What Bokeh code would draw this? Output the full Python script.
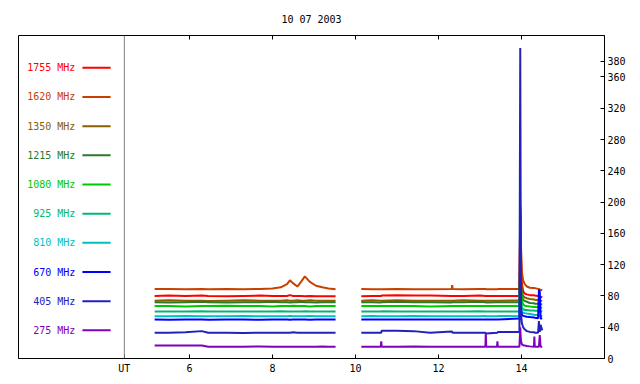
from bokeh.plotting import figure
from bokeh.models import Range1d, LinearAxis, FixedTicker, Span
from bokeh.core.properties import value
from bokeh.embed import file_html
from bokeh.resources import INLINE

NaN = float("nan")

TITLE = "10 07 2003"
FONT = "DejaVu Sans Mono"

# time in hours UT (NaN = data gap)
HOURS = [
    5.16, 5.5, 5.9, 6.3, 6.45, 6.9, 7.3, 7.7, 8.0, 8.2, 8.35, 8.42, 8.5, 8.6, 8.7, 8.78, 8.9, 9.05, 9.2, 9.35, 9.52,
    NaN,
    10.14, 10.4, 10.61, 10.62, 10.63, 11.0, 11.4, 11.8, 12.32, 12.33, 12.34, 12.6, 13.0, 13.13, 13.14, 13.15, 13.41, 13.42, 13.43, 13.95,
    13.97, 13.98, 13.99, 14.01, 14.04, 14.08, 14.13, 14.2, 14.3, 14.31, 14.32, 14.4, 14.42, 14.44, 14.46, 14.5,
]

F1755 = [
    80, 80.5, 80, 80.5, 80, 79.5, 80, 80.5, 80, 80, 80, 81, 80, 80, 80, 79.5, 80, 79.5, 79.5, 79.5, 79.5,
    NaN,
    79.5, 80, 80, 80, 80.5, 81, 80.5, 80.5, 80, 80, 80, 80, 80.5, 80, 80, 80, 80, 80, 80, 80,
    185, 175, 125, 96, 86, 83, 82, 81, 81, 81, 80.5, 80, 79.5, 79, 79, 78,
]
F1620 = [
    89, 89, 88.5, 89, 88.5, 89, 88.5, 89, 89.5, 91, 95, 100, 96, 92, 99, 105, 98, 93, 91, 89.5, 88.5,
    NaN,
    89, 88.5, 88.5, 88.5, 88.5, 89, 88.5, 88.5, 89, 94, 89, 88.5, 89, 89, 89, 88.5, 88.5, 88.5, 89, 89,
    195, 188, 140, 110, 100, 95, 92, 90.5, 90, 90, 90, 89, 89, 88, 88, 87,
]
F1350 = [
    74, 74.5, 74, 74, 73.5, 74, 74.5, 74, 74, 74, 74.5, 74, 74, 74.5, 74, 74, 74.5, 74, 74, 74, 74,
    NaN,
    74, 74.5, 74, 74, 74, 74.5, 74, 74, 74, 74, 74, 74.5, 74, 74, 74, 74, 74, 74, 74, 74.5,
    140, 130, 100, 85, 80, 78, 77, 76, 75.5, 75, 75, 74.5, 74.5, 74, 74, 73.5,
]
F1215 = [
    72, 71.5, 72, 72.5, 72, 71.5, 72, 72, 72.5, 72, 72, 71.5, 72, 72, 72.5, 72, 72, 71.5, 72, 72, 72,
    NaN,
    72, 72, 71.5, 72, 72, 72.5, 72, 72, 71.5, 72, 72, 72, 72.5, 72, 72, 71.5, 72, 72, 72, 72,
    122, 115, 92, 80, 75, 73.5, 72.5, 71, 70.5, 70.5, 70, 70, 70, 69.5, 69.5, 69,
]
F1080 = [
    67, 67, 66.5, 67, 67, 67.5, 67, 67, 66.5, 67, 67, 67, 67.5, 67, 67, 67, 66.5, 67, 67, 67, 67,
    NaN,
    67, 67, 67, 67.5, 67, 67, 67, 66.5, 67, 67, 67, 67, 67, 67, 67.5, 67, 67, 67, 67, 67,
    112, 105, 85, 74, 69, 67.5, 67, 66.5, 66, 66, 66, 65.5, 65.5, 65.5, 65, 65,
]
F925 = [
    60, 60, 60, 60.5, 60, 60, 60, 60, 60, 60.5, 60, 60, 60, 60, 60, 60.5, 60, 60, 60, 60, 60,
    NaN,
    60, 60, 60, 60, 60.5, 60, 60, 60, 60, 60, 60, 60, 60.5, 60, 60, 60, 60, 60, 60, 60,
    100, 92, 75, 66, 63, 62, 62, 61.5, 61.5, 61, 61, 61, 60.5, 60.5, 60.5, 60,
]
F810 = [
    54, 54, 54.5, 54, 54, 54, 54.5, 54, 54, 54, 54, 54.5, 54, 54, 54, 54, 54.5, 54, 54, 54, 54,
    NaN,
    54, 54.5, 54, 54, 54, 54, 54.5, 54, 54, 54, 54, 54, 54, 54.5, 54, 54, 54, 54, 54.5, 54,
    90, 80, 66, 60, 58.5, 58, 57.5, 57, 56, 56, 55.5, 55.5, 55, 55, 54.5, 54.5,
]
F670 = [
    50, 49.5, 50, 50, 49.5, 50, 50, 49.5, 50, 50, 50, 49.5, 50, 50, 50, 50, 49.5, 50, 50, 50, 50,
    NaN,
    50, 50, 50, 49.5, 50, 50, 50, 50, 50, 49.5, 50, 50, 50, 50, 50, 50, 50, 49.5, 50, 51,
    85, 75, 62, 56, 54.5, 54, 53.5, 53, 52.5, 52.5, 52, 51.5, 88, 86, 51, 51,
]
F405 = [
    33, 33, 33.5, 35, 33, 33, 32.5, 33, 33, 33, 33, 33, 33.5, 33, 33, 33, 33, 33, 33, 33, 33,
    NaN,
    33, 33, 33, 33, 35.5, 35.5, 35, 33, 34.5, 34, 33, 33, 33, 33, 32, 32, 33, 33, 34, 34,
    397, 200, 55, 45, 40, 37, 35, 34, 33.5, 33.5, 33, 33, 48, 34, 43, 36,
]
F275 = [
    16.5, 16.5, 16.5, 16.5, 15, 15, 15, 15.5, 15, 15, 15, 15, 15, 15, 15, 15, 15, 15, 15.5, 15, 15,
    NaN,
    15, 15, 15, 22, 15, 15, 15.5, 15, 15, 15, 15, 15, 15, 15, 33, 15, 15, 22, 15, 15,
    40, 28, 22, 18, 17, 16.5, 16, 15.5, 15, 28, 15, 15, 15, 30, 15, 15,
]

LABELS = ["1755 MHz", "1620 MHz", "1350 MHz", "1215 MHz", "1080 MHz",
          "925 MHz", "810 MHz", "670 MHz", "405 MHz", "275 MHz"]
COLORS = ["#ff0000", "#c84000", "#886000", "#2a7a2a", "#00c800",
          "#00b870", "#00c0c0", "#0000ff", "#2222bb", "#8000c0"]
SERIES = [F1755, F1620, F1350, F1215, F1080, F925, F810, F670, F405, F275]

X_TICKS = [6, 8, 10, 12, 14]
Y_TICKS = [0, 40, 80, 120, 160, 200, 240, 280, 320, 360, 380]
UT_POS = 4.43

X_MIN, X_MAX = 1.88, 16.0
Y_MIN, Y_MAX = 0, 413

BORDER_L, BORDER_R, BORDER_T, BORDER_B = 18, 28, 35, 17
FRAME_W, FRAME_H = 586, 324

p = figure(width=BORDER_L + FRAME_W + BORDER_R, height=BORDER_T + FRAME_H + BORDER_B,
           output_backend="svg", toolbar_location=None,
           x_range=Range1d(X_MIN, X_MAX), y_range=Range1d(Y_MIN, Y_MAX),
           x_axis_location=None, y_axis_location=None,
           min_border_left=BORDER_L, min_border_right=BORDER_R,
           min_border_top=BORDER_T, min_border_bottom=BORDER_B,
           title=TITLE)
p.grid.visible = False
p.outline_line_color = "black"
p.outline_line_width = 1
p.background_fill_color = "white"
p.border_fill_color = "white"

p.title.align = "center"
p.title.text_font = FONT
p.title.text_font_size = "10px"
p.title.text_font_style = "normal"
p.title.text_color = "black"
p.title.standoff = 22


def style_axis(ax):
    ax.axis_line_color = "black"
    ax.major_tick_line_color = "black"
    ax.major_tick_in = 4
    ax.major_tick_out = 0
    ax.minor_tick_line_color = None
    ax.major_label_text_font = FONT
    ax.major_label_text_font_size = "10px"
    ax.major_label_text_color = "black"


xb = LinearAxis(ticker=FixedTicker(ticks=[UT_POS] + X_TICKS),
                major_label_overrides={UT_POS: "UT"})
style_axis(xb)
xb.major_label_standoff = 4
p.add_layout(xb, "below")

yr = LinearAxis(ticker=FixedTicker(ticks=Y_TICKS))
style_axis(yr)
yr.major_label_standoff = 3
p.add_layout(yr, "right")

# inward ticks along the top edge (4 px long)
tick_len = 4 * (Y_MAX - Y_MIN) / FRAME_H
p.segment(x0=X_TICKS, x1=X_TICKS, y0=[Y_MAX] * len(X_TICKS),
          y1=[Y_MAX - tick_len] * len(X_TICKS), line_color="black", line_width=1)

p.add_layout(Span(location=UT_POS, dimension="height", line_color="#808080", line_width=1))

# data
for vals, col in zip(SERIES, COLORS):
    p.line(HOURS, vals, line_color=col, line_width=2)

# legend (drawn inside the plot, top to bottom)
n = len(LABELS)
leg_y = [36 + 37.3 * (n - 1 - i) for i in range(n)]
p.text(x=[3.25] * n, y=leg_y, text=LABELS, text_color=COLORS,
       text_align="right", text_baseline="middle",
       text_font=value(FONT), text_font_size="10px")
p.segment(x0=[3.42] * n, y0=leg_y, x1=[4.10] * n, y1=leg_y,
          line_color=COLORS, line_width=2)

open("out.html", "w").write(file_html(p, INLINE))
